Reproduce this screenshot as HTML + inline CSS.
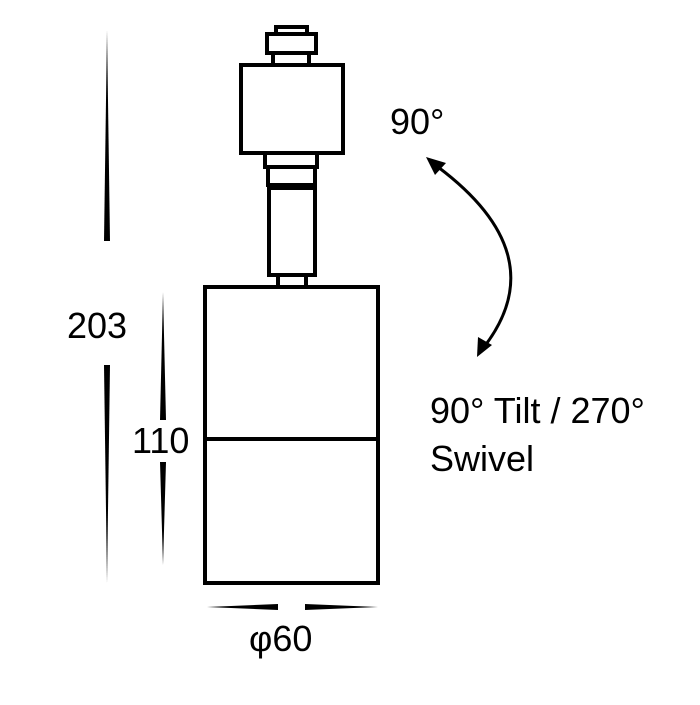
<!DOCTYPE html>
<html><head><style>body{margin:0;background:#fff}</style></head><body>
<svg width="700" height="700" viewBox="0 0 700 700" xmlns="http://www.w3.org/2000/svg">
<g fill="none" stroke="#000" stroke-width="4">
<rect x="276" y="27" width="31" height="7"/>
<rect x="267" y="34" width="49" height="19"/>
<rect x="273" y="53" width="36" height="12"/>
<rect x="241" y="65" width="102" height="88"/>
<rect x="265" y="153" width="52" height="14"/>
<rect x="268" y="167" width="47" height="18"/>
<rect x="269" y="188" width="46" height="87"/>
<rect x="278" y="275" width="28" height="12"/>
<rect x="205" y="287" width="173" height="296"/>
<line x1="205" y1="439" x2="378" y2="439"/>
<path d="M438,167 Q555,255 484,347" stroke-width="3"/>
</g>
<g fill="#000">
<polygon points="107,30 104,241 110,241"/>
<polygon points="107,583 104,365 110,365"/>
<polygon points="163,292 160,420 166,420"/>
<polygon points="163,565 160,462 166,462"/>
<polygon points="207,607 278,604 278,610"/>
<polygon points="378,607 305,604 305,610"/>
<polygon points="426,157 446,163 435,175"/>
<polygon points="477,357 478,337 492,345"/>
</g>
<g font-family="Liberation Sans, sans-serif" font-size="36" fill="#000">
<text x="390" y="134">90°</text>
<text x="67" y="338">203</text>
<text x="132" y="453">110</text>
<text x="249" y="651">φ60</text>
<text x="430" y="423">90° Tilt / 270°</text>
<text x="430" y="471">Swivel</text>
</g>
</svg>
</body></html>
